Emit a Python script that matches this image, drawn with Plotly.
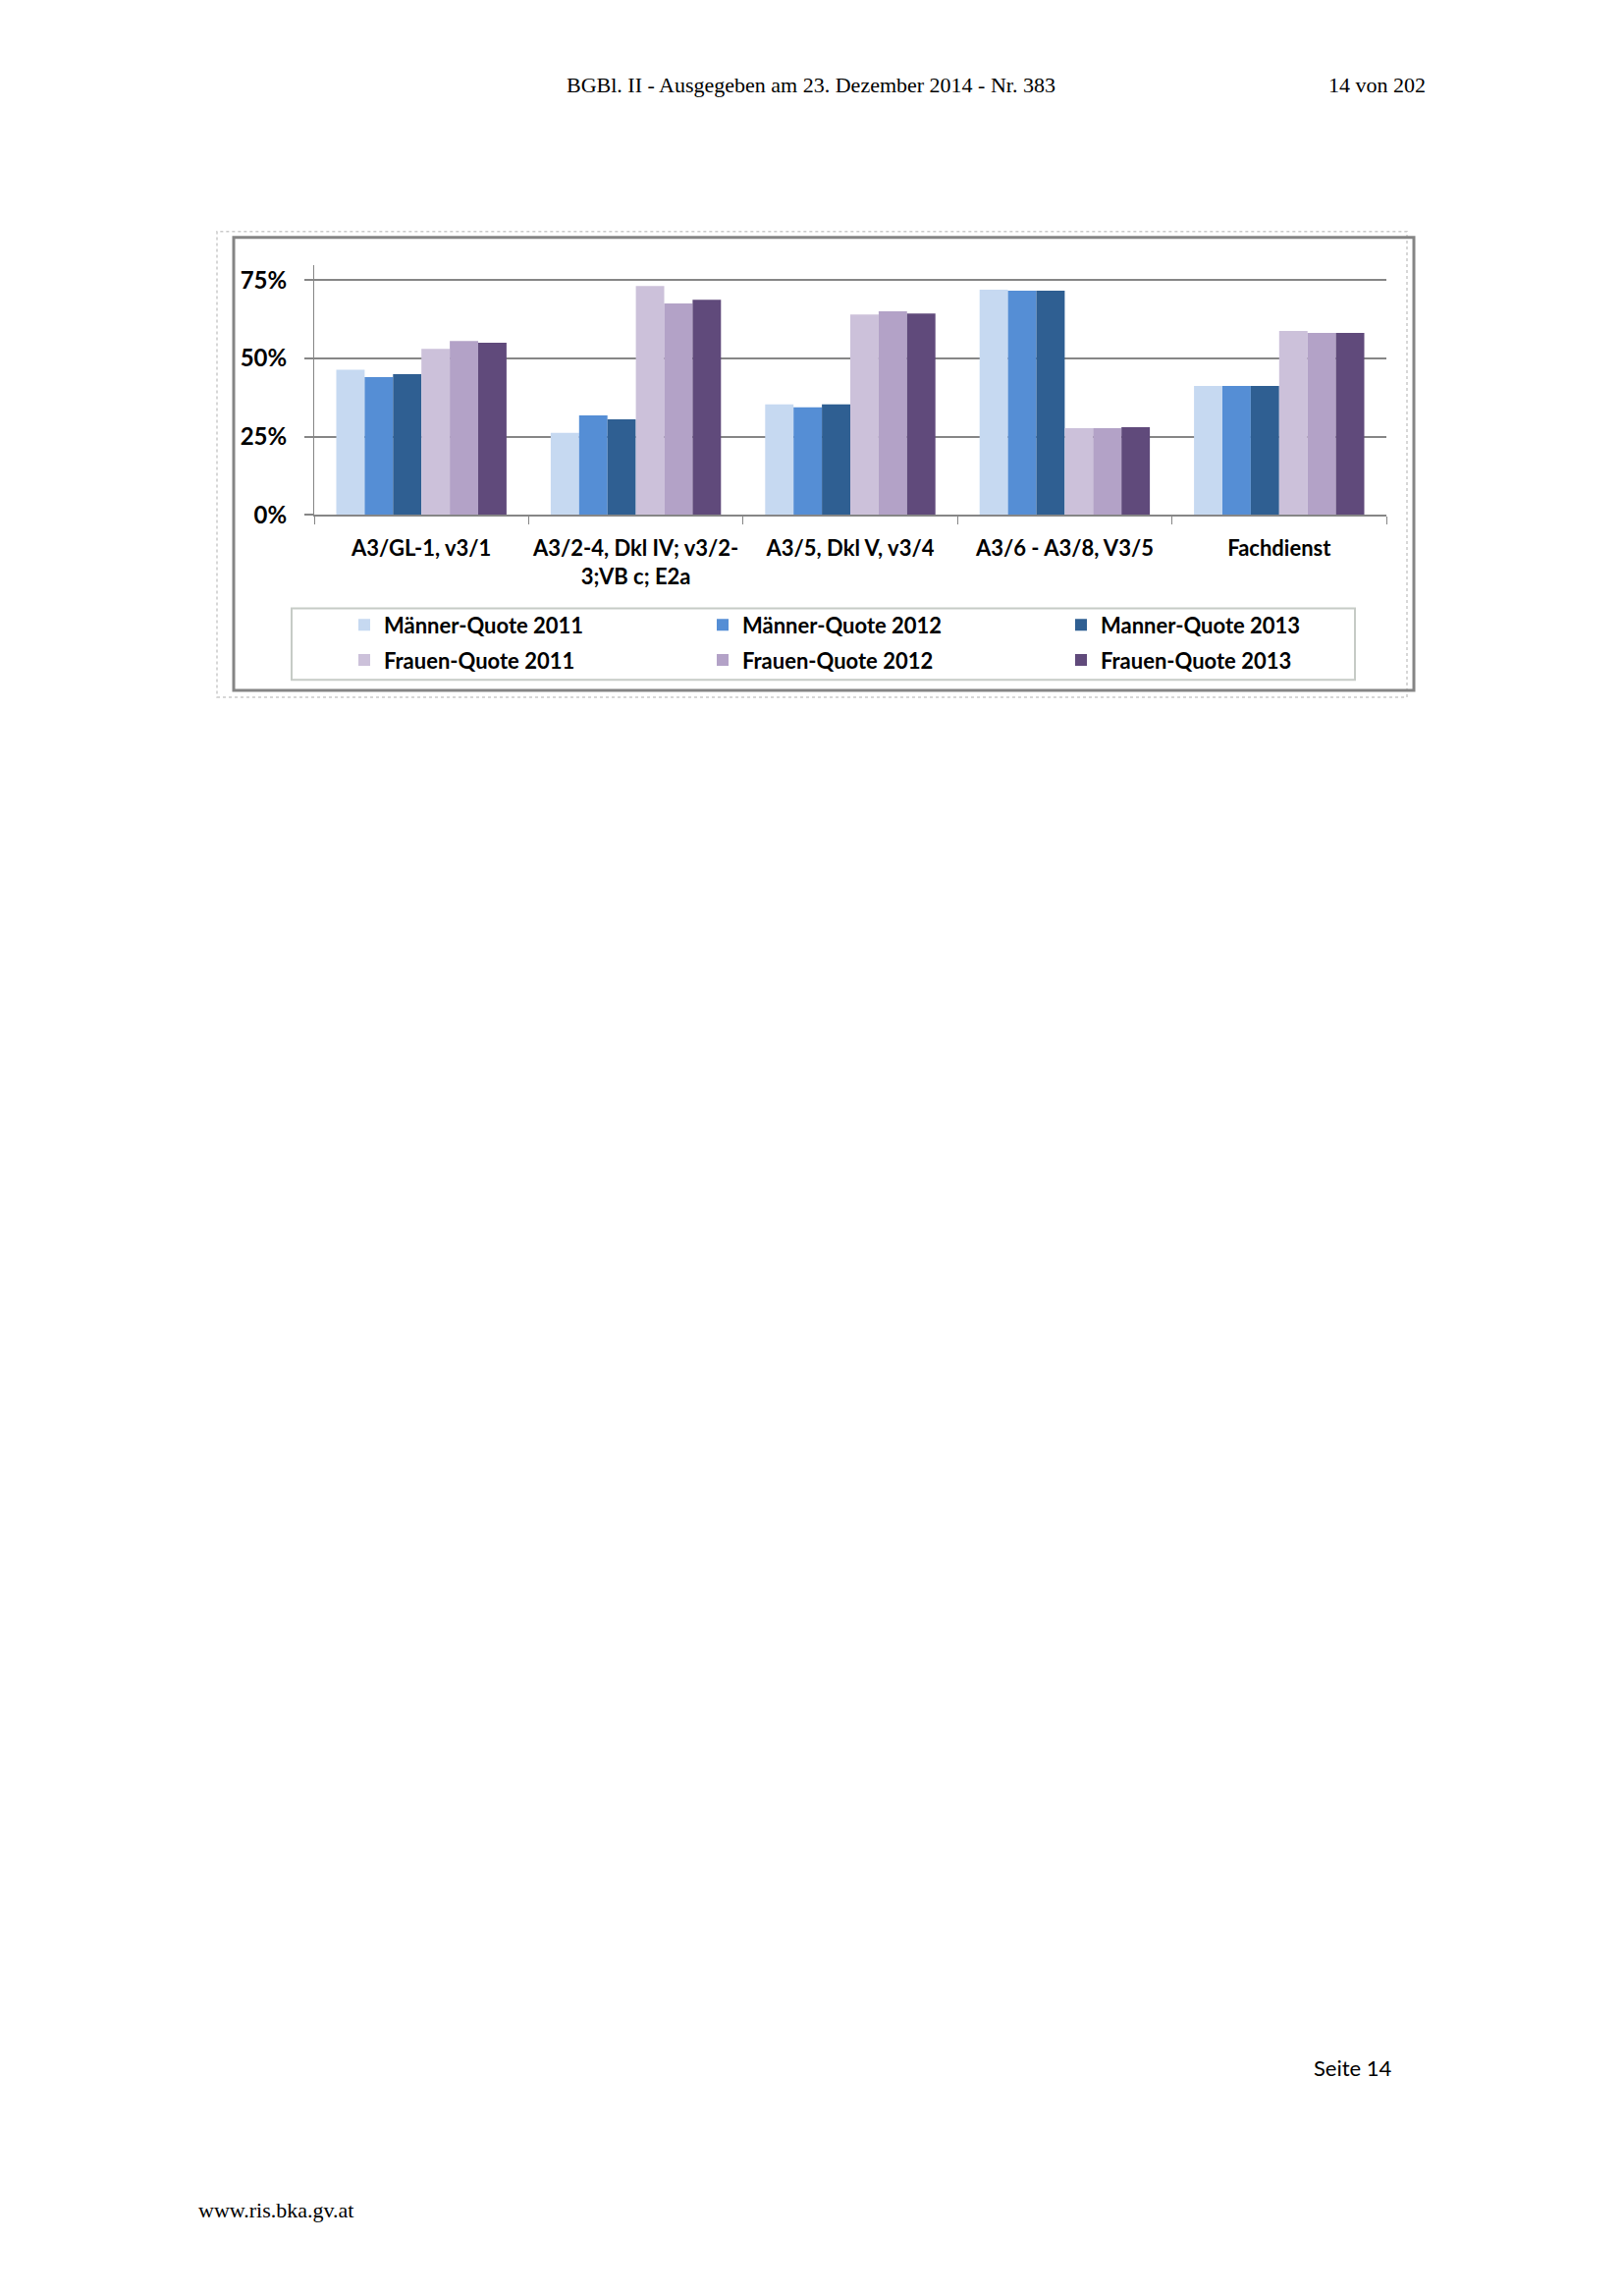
import plotly.graph_objects as go

# the page body adds an 8px margin, so the figure is drawn 16px smaller
PAGE_W, PAGE_H = 1653, 2338
OFF = 8
W, H = PAGE_W - 2 * OFF, PAGE_H - 2 * OFF

# data
categories = ["A3/GL-1, v3/1", "A3/2-4, Dkl IV; v3/2-<br>3;VB c; E2a", "A3/5, Dkl V, v3/4",
              "A3/6 - A3/8, V3/5", "Fachdienst"]
maenner_2011 = [0.464, 0.262, 0.353, 0.720, 0.412]
maenner_2012 = [0.440, 0.318, 0.344, 0.717, 0.412]
maenner_2013 = [0.450, 0.305, 0.353, 0.717, 0.412]
frauen_2011 = [0.531, 0.732, 0.641, 0.277, 0.588]
frauen_2012 = [0.556, 0.676, 0.651, 0.277, 0.582]
frauen_2013 = [0.550, 0.688, 0.644, 0.280, 0.582]
series_names = ["Männer-Quote 2011", "Männer-Quote 2012", "Manner-Quote 2013",
                "Frauen-Quote 2011", "Frauen-Quote 2012", "Frauen-Quote 2013"]
y_ticks = [0, 0.25, 0.5, 0.75]
y_ticktext = ["0%", "25%", "50%", "75%"]

colors = ["#c6d9f1", "#558ed5", "#2f5f92", "#ccc1da", "#b3a2c7", "#604a7b"]
series = [maenner_2011, maenner_2012, maenner_2013, frauen_2011, frauen_2012, frauen_2013]


# page pixel -> paper coordinates
def px_x(p):
    return (p - OFF) / W


def px_y(p):
    return 1 - (p - OFF) / H


fig = go.Figure()
for i, (name, vals) in enumerate(zip(series_names, series)):
    fig.add_trace(go.Bar(x=categories, y=vals, name=name, marker_color=colors[i],
                         marker_line_width=0,
                         legend="legend" if i < 3 else "legend2"))

grid = "#868686"
leg_font = dict(family="Lato", size=22, color="black", weight="bold")

fig.update_layout(
    width=W, height=H,
    margin=dict(l=0, r=0, t=0, b=0),
    paper_bgcolor="white", plot_bgcolor="white",
    barmode="group", bargap=0.206, bargroupgap=0,
    xaxis=dict(domain=[px_x(320), px_x(1412)], showline=True, linecolor=grid, linewidth=2,
               ticks="outside", tickson="boundaries", ticklen=8, tickcolor=grid, tickwidth=1,
               tickangle=0,
               tickfont=dict(family="Lato", size=22, color="black", weight="bold"),
               ticklabelstandoff=14, showgrid=False, fixedrange=True),
    yaxis=dict(domain=[px_y(527), px_y(271)], range=[0, 0.8], tickvals=y_ticks, ticktext=y_ticktext,
               showgrid=True, gridcolor=grid, gridwidth=2, zeroline=False,
               showline=True, linecolor=grid, linewidth=1,
               ticks="outside", ticklen=9, tickcolor=grid, tickwidth=2,
               tickfont=dict(family="Lato", size=24, color="black", weight="bold"),
               ticklabelstandoff=13, fixedrange=True),
    legend=dict(x=px_x(351), y=px_y(640), xanchor="left", yanchor="middle", orientation="h",
                entrywidth=320, entrywidthmode="pixels", font=leg_font,
                bgcolor="rgba(0,0,0,0)", borderwidth=0),
    legend2=dict(x=px_x(351), y=px_y(676), xanchor="left", yanchor="middle", orientation="h",
                 entrywidth=320, entrywidthmode="pixels", font=leg_font,
                 bgcolor="rgba(0,0,0,0)", borderwidth=0),
    showlegend=True,
)

# chart frames and legend box
fig.add_shape(type="rect", xref="paper", yref="paper", x0=px_x(221), x1=px_x(1433), y0=px_y(714), y1=px_y(237),
              line=dict(color="#cacaca", width=1.5, dash="dot"))
fig.add_shape(type="rect", xref="paper", yref="paper", x0=px_x(238), x1=px_x(1440), y0=px_y(707), y1=px_y(243),
              line=dict(color="#858585", width=3))
fig.add_shape(type="rect", xref="paper", yref="paper", x0=px_x(297), x1=px_x(1380), y0=px_y(696), y1=px_y(623),
              line=dict(color="#c6cbc6", width=2))

# page header and footer
serif = dict(family="Liberation Serif", size=22, color="black")
fig.add_annotation(text="BGBl. II - Ausgegeben am 23. Dezember 2014 - Nr. 383", x=px_x(826), y=px_y(87),
                   xref="paper", yref="paper", xanchor="center", yanchor="middle", showarrow=False, font=serif)
fig.add_annotation(text="14 von 202", x=px_x(1454), y=px_y(87), xref="paper", yref="paper",
                   xanchor="right", yanchor="middle", showarrow=False, font=serif)
fig.add_annotation(text="Seite 14", x=px_x(1420), y=px_y(2117), xref="paper", yref="paper",
                   xanchor="right", yanchor="middle", showarrow=False,
                   font=dict(family="Lato", size=22, color="black"))
fig.add_annotation(text="www.ris.bka.gv.at", x=px_x(200), y=px_y(2263), xref="paper", yref="paper",
                   xanchor="left", yanchor="middle", showarrow=False, font=serif)

fig.write_html("out.html")
